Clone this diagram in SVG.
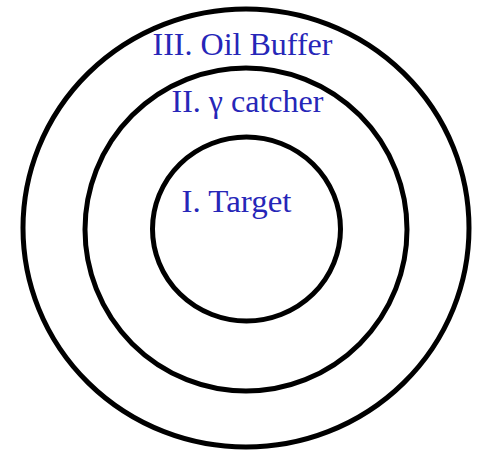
<svg xmlns="http://www.w3.org/2000/svg" width="479" height="451" viewBox="0 0 479 451">
<style>
.ring{fill:none;stroke:#000;stroke-width:5}
.lbl{font-family:"Liberation Serif","Times New Roman",serif;font-size:32px;fill:#2626b8}
</style>
<rect width="479" height="451" fill="#fff"/>
<g id="oil-buffer">
<ellipse class="ring" cx="246" cy="228" rx="223" ry="219"/>
<text class="lbl" x="152.5" y="55" textLength="180" lengthAdjust="spacingAndGlyphs">III. Oil Buffer</text>
</g>
<g id="gamma-catcher">
<ellipse class="ring" cx="246" cy="229.5" rx="161" ry="161.5"/>
<text class="lbl" x="171.5" y="111.5" textLength="152" lengthAdjust="spacingAndGlyphs">II. γ catcher</text>
</g>
<g id="target">
<ellipse class="ring" cx="246.5" cy="229" rx="94" ry="92"/>
<text class="lbl" x="181.5" y="211.5" textLength="110" lengthAdjust="spacingAndGlyphs">I. Target</text>
</g>
<g id="connectors"/>
</svg>
